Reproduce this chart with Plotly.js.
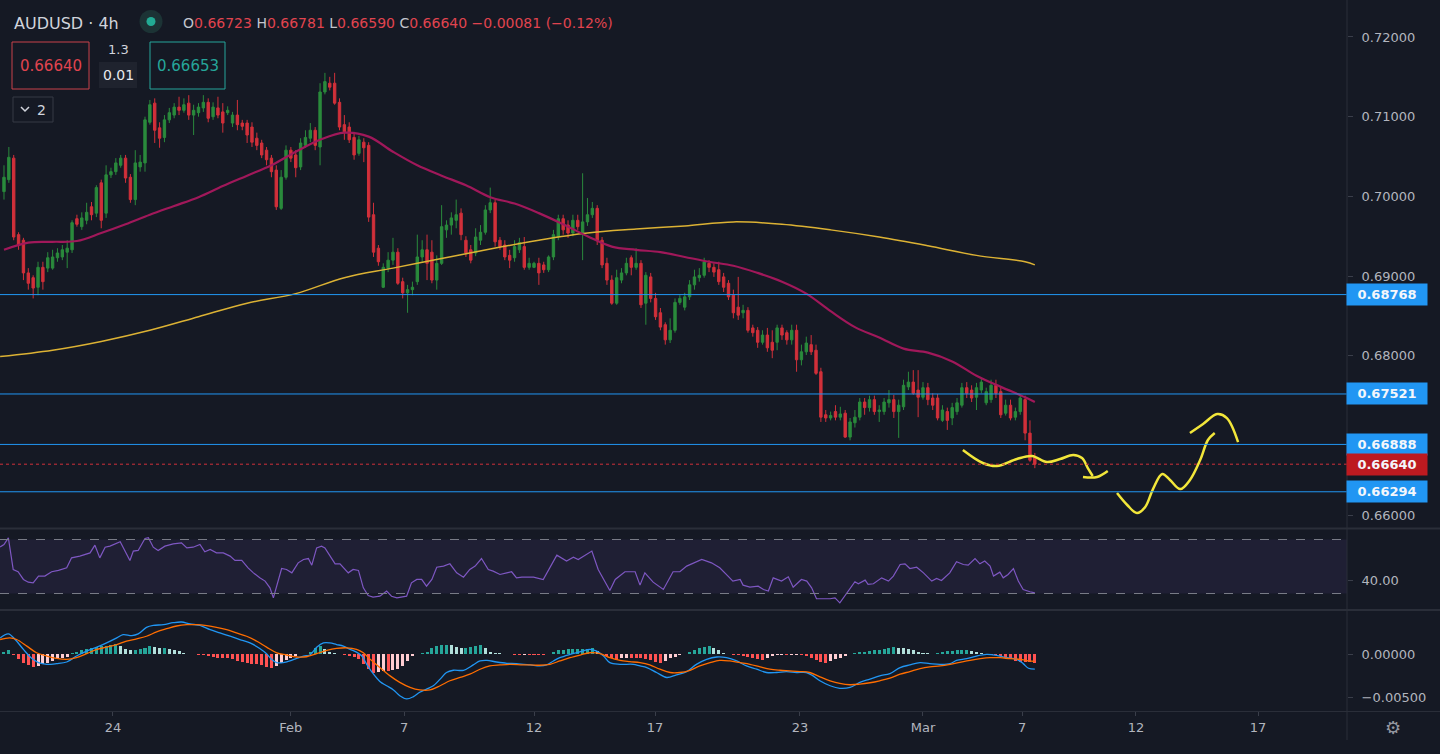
<!DOCTYPE html>
<html><head><meta charset="utf-8">
<script src="https://cdn.plot.ly/plotly-3.0.1.min.js"></script>
<style>html,body{margin:0;padding:0;background:#151924;overflow:hidden}#chart{width:1440px;height:754px}</style>
</head><body><div id="chart"></div>
<script>
// ---------- DATA ----------
const openP=[0.7006,0.7021,0.7048,0.6952,0.6945,0.6904,0.6898,0.6886,0.6911,0.6910,0.6910,0.6923,0.6924,0.6930,0.6933,0.6972,0.6962,0.6970,0.6987,0.6979,0.7017,0.6979,0.7027,0.7031,0.7039,0.7048,0.7024,0.6996,0.7037,0.7042,0.7093,0.7117,0.7086,0.7074,0.7096,0.7102,0.7112,0.7108,0.7117,0.7102,0.7105,0.7111,0.7118,0.7100,0.7111,0.7106,0.7105,0.7092,0.7102,0.7092,0.7092,0.7087,0.7073,0.7067,0.7058,0.7048,0.7033,0.6985,0.7024,0.7058,0.7052,0.7037,0.7064,0.7073,0.7083,0.7062,0.7131,0.7142,0.7142,0.7118,0.7090,0.7087,0.7074,0.7054,0.7068,0.7064,0.6977,0.6935,0.6886,0.6910,0.6920,0.6930,0.6893,0.6879,0.6883,0.6893,0.6924,0.6933,0.6930,0.6895,0.6916,0.6958,0.6964,0.6970,0.6979,0.6945,0.6933,0.6929,0.6945,0.6955,0.6983,0.6992,0.6945,0.6939,0.6926,0.6923,0.6933,0.6937,0.6911,0.6911,0.6916,0.6914,0.6908,0.6924,0.6949,0.6972,0.6964,0.6954,0.6970,0.6954,0.6968,0.6977,0.6985,0.6945,0.6916,0.6895,0.6866,0.6895,0.6904,0.6923,0.6911,0.6916,0.6866,0.6899,0.6872,0.6854,0.6839,0.6820,0.6832,0.6867,0.6861,0.6874,0.6889,0.6898,0.6901,0.6916,0.6911,0.6908,0.6899,0.6891,0.6876,0.6861,0.6854,0.6857,0.6835,0.6832,0.6817,0.6826,0.6817,0.6817,0.6835,0.6829,0.6820,0.6832,0.6795,0.6805,0.6814,0.6807,0.6780,0.6726,0.6722,0.6730,0.6723,0.6728,0.6698,0.6716,0.6723,0.6742,0.6735,0.6745,0.6730,0.6730,0.6741,0.6745,0.6730,0.6736,0.6761,0.6767,0.6757,0.6748,0.6760,0.6747,0.6747,0.6719,0.6730,0.6722,0.6730,0.6738,0.6760,0.6757,0.6748,0.6757,0.6741,0.6745,0.6763,0.6755,0.6728,0.6738,0.6723,0.6730,0.6745,0.6703,0.66723];
const highP=[0.7039,0.7062,0.7052,0.6955,0.6948,0.6910,0.6901,0.6918,0.6918,0.6930,0.6933,0.6935,0.6939,0.6945,0.6970,0.6977,0.6980,0.6992,0.6993,0.7014,0.7021,0.7039,0.7036,0.7048,0.7052,0.7052,0.7028,0.7058,0.7052,0.7100,0.7121,0.7123,0.7093,0.7102,0.7111,0.7117,0.7125,0.7123,0.7127,0.7115,0.7117,0.7127,0.7123,0.7118,0.7125,0.7117,0.7113,0.7106,0.7121,0.7096,0.7096,0.7093,0.7080,0.7071,0.7062,0.7052,0.7039,0.7033,0.7064,0.7062,0.7058,0.7073,0.7083,0.7092,0.7087,0.7142,0.7155,0.7150,0.7155,0.7123,0.7102,0.7093,0.7081,0.7076,0.7073,0.7068,0.6992,0.6939,0.6916,0.6930,0.6948,0.6935,0.6898,0.6889,0.6893,0.6952,0.6945,0.6952,0.6945,0.6926,0.6989,0.6970,0.6980,0.6996,0.6985,0.6950,0.6939,0.6960,0.6964,0.6989,0.7011,0.6996,0.6949,0.6945,0.6933,0.6945,0.6948,0.6949,0.6923,0.6918,0.6923,0.6918,0.6926,0.6958,0.6977,0.6977,0.6970,0.6977,0.6977,0.7029,0.6998,0.6993,0.6989,0.6949,0.6923,0.6901,0.6908,0.6910,0.6923,0.6926,0.6935,0.6920,0.6905,0.6904,0.6879,0.6860,0.6842,0.6847,0.6872,0.6876,0.6879,0.6895,0.6908,0.6910,0.6923,0.6920,0.6916,0.6918,0.6904,0.6895,0.6883,0.6899,0.6864,0.6861,0.6839,0.6836,0.6832,0.6835,0.6832,0.6839,0.6839,0.6832,0.6839,0.6839,0.6814,0.6824,0.6826,0.6814,0.6785,0.6732,0.6730,0.6738,0.6736,0.6732,0.6722,0.6732,0.6747,0.6747,0.6750,0.6750,0.6738,0.6747,0.6757,0.6751,0.6745,0.6770,0.6780,0.6782,0.6782,0.6767,0.6766,0.6753,0.6752,0.6738,0.6735,0.6741,0.6747,0.6766,0.6767,0.6763,0.6766,0.6773,0.6760,0.6770,0.6770,0.6760,0.6745,0.6745,0.6735,0.6751,0.6750,0.6719,0.66781];
const lowP=[0.6996,0.7017,0.6945,0.6933,0.6895,0.6883,0.6872,0.6876,0.6883,0.6905,0.6908,0.6918,0.6920,0.6910,0.6929,0.6962,0.6958,0.6965,0.6970,0.6974,0.6960,0.6973,0.7023,0.7027,0.7036,0.7017,0.6992,0.6989,0.7031,0.7031,0.7090,0.7067,0.7061,0.7068,0.7092,0.7098,0.7102,0.7105,0.7096,0.7077,0.7100,0.7106,0.7093,0.7096,0.7098,0.7080,0.7102,0.7087,0.7083,0.7083,0.7067,0.7062,0.7058,0.7048,0.7039,0.7024,0.6983,0.6983,0.7021,0.7043,0.7024,0.7033,0.7061,0.7068,0.7058,0.7039,0.7128,0.7133,0.7115,0.7083,0.7071,0.7067,0.7046,0.7051,0.7043,0.6968,0.6924,0.6913,0.6885,0.6905,0.6914,0.6889,0.6872,0.6854,0.6876,0.6889,0.6918,0.6895,0.6891,0.6883,0.6914,0.6948,0.6952,0.6960,0.6945,0.6924,0.6916,0.6925,0.6939,0.6952,0.6979,0.6937,0.6933,0.6920,0.6910,0.6918,0.6929,0.6908,0.6908,0.6910,0.6889,0.6904,0.6905,0.6920,0.6945,0.6952,0.6948,0.6950,0.6958,0.6920,0.6963,0.6973,0.6939,0.6910,0.6889,0.6864,0.6864,0.6891,0.6901,0.6901,0.6908,0.6860,0.6839,0.6867,0.6845,0.6832,0.6814,0.6816,0.6829,0.6864,0.6857,0.6870,0.6883,0.6893,0.6898,0.6905,0.6899,0.6889,0.6880,0.6870,0.6847,0.6845,0.6847,0.6829,0.6824,0.6810,0.6814,0.6805,0.6797,0.6807,0.6820,0.6814,0.6814,0.6780,0.6788,0.6801,0.6801,0.6776,0.6717,0.6717,0.6719,0.6719,0.6719,0.6697,0.6694,0.6710,0.6719,0.6726,0.6730,0.6726,0.6717,0.6726,0.6735,0.6722,0.6697,0.6732,0.6757,0.6751,0.6723,0.6745,0.6738,0.6732,0.6719,0.6717,0.6707,0.6713,0.6726,0.6735,0.6747,0.6742,0.6732,0.6753,0.6738,0.6741,0.6747,0.6722,0.6725,0.6719,0.6719,0.6726,0.6694,0.6667,0.66590];
const closeP=[0.7024,0.7049,0.6949,0.6939,0.6904,0.6891,0.6885,0.6911,0.6893,0.6923,0.6924,0.6929,0.6933,0.6935,0.6967,0.6965,0.6973,0.6980,0.6977,0.7011,0.6970,0.7027,0.7031,0.7042,0.7048,0.7023,0.6996,0.7042,0.7043,0.7096,0.7115,0.7083,0.7073,0.7096,0.7105,0.7112,0.7108,0.7115,0.7102,0.7108,0.7112,0.7118,0.7098,0.7112,0.7102,0.7092,0.7108,0.7102,0.7090,0.7088,0.7077,0.7068,0.7064,0.7052,0.7046,0.7031,0.6987,0.7024,0.7058,0.7048,0.7036,0.7067,0.7074,0.7083,0.7064,0.7131,0.7144,0.7137,0.7117,0.7087,0.7081,0.7071,0.7052,0.7071,0.7061,0.6974,0.6930,0.6918,0.6911,0.6920,0.6930,0.6891,0.6879,0.6883,0.6886,0.6924,0.6933,0.6916,0.6895,0.6916,0.6962,0.6964,0.6973,0.6977,0.6952,0.6929,0.6920,0.6949,0.6955,0.6983,0.6992,0.6943,0.6937,0.6924,0.6920,0.6937,0.6942,0.6911,0.6916,0.6916,0.6904,0.6908,0.6924,0.6952,0.6972,0.6958,0.6954,0.6970,0.6962,0.6968,0.6977,0.6985,0.6945,0.6914,0.6895,0.6866,0.6898,0.6904,0.6916,0.6911,0.6916,0.6864,0.6901,0.6872,0.6849,0.6836,0.6820,0.6832,0.6867,0.6872,0.6874,0.6889,0.6899,0.6901,0.6918,0.6911,0.6905,0.6893,0.6886,0.6874,0.6854,0.6851,0.6857,0.6832,0.6829,0.6817,0.6826,0.6810,0.6807,0.6835,0.6826,0.6820,0.6832,0.6795,0.6805,0.6816,0.6805,0.6778,0.6723,0.6722,0.6725,0.6723,0.6727,0.6698,0.6717,0.6723,0.6742,0.6735,0.6745,0.6730,0.6732,0.6742,0.6745,0.6730,0.6738,0.6763,0.6767,0.6753,0.6748,0.6760,0.6745,0.6738,0.6722,0.6732,0.6719,0.6735,0.6741,0.6760,0.6753,0.6747,0.6760,0.6767,0.6755,0.6763,0.6753,0.6726,0.6738,0.6722,0.6730,0.6747,0.6703,0.6669,0.66640];

// moving averages [bar, price]
const ma50Pts=[[0,0.6933],[5,0.6942],[10,0.6943],[15,0.6944],[20,0.6954],[25,0.6965],[30,0.6977],[35,0.6988],[40,0.6999],[45,0.7013],[50,0.7026],[55,0.7039],[60,0.7056],[65,0.7071],[70,0.7080],[75,0.7075],[80,0.7056],[85,0.7039],[90,0.7026],[95,0.7014],[100,0.6999],[105,0.6991],[110,0.6979],[115,0.6965],[120,0.6950],[125,0.6937],[130,0.6933],[135,0.6930],[140,0.6924],[145,0.6918],[150,0.6913],[155,0.6904],[160,0.6893],[165,0.6878],[170,0.6856],[175,0.6836],[180,0.6823],[185,0.6809],[190,0.6804],[195,0.6793],[200,0.6775],[205,0.6761],[210,0.6748],[212,0.6742]];
const ma200Pts=[[-0.8,0.6799],[10,0.6807],[20,0.6818],[30,0.6832],[40,0.6849],[50,0.6866],[60,0.6878],[70,0.6898],[80,0.6910],[90,0.6922],[100,0.6934],[110,0.6945],[120,0.6954],[130,0.6959],[140,0.6963],[150,0.6968],[160,0.6965],[170,0.6958],[180,0.6949],[190,0.6938],[200,0.6926],[210,0.6918],[212,0.6914]];

// RSI [bar, value]
const rsiPts=[[-0.8,64.5],[0,66.3],[0.9,71.2],[1.9,47.8],[2.9,46.1],[4.0,40.4],[5.0,38.4],[6.0,37.9],[7.1,42.9],[8.4,42.9],[9.8,46.1],[11.2,47.1],[12.9,49.0],[13.9,56.4],[15.6,57.7],[16.7,58.9],[17.7,60.1],[18.7,65.8],[19.7,56.4],[20.8,64.3],[21.8,65.1],[23.9,68.3],[24.9,61.9],[25.9,54.5],[26.6,61.4],[27.6,61.9],[29.0,70.8],[29.7,71.3],[30.7,64.3],[31.7,61.9],[33.1,65.1],[34.8,66.8],[36.5,67.5],[37.6,63.8],[38.9,64.3],[40.3,66.3],[41.3,60.9],[42.4,62.6],[43.7,60.1],[45.1,60.1],[46.5,57.7],[47.5,54.5],[48.9,54.5],[50.2,49.0],[51.3,45.3],[52.6,41.6],[53.7,39.2],[54.7,34.2],[55.4,26.8],[56.4,39.2],[57.1,48.5],[58.1,47.8],[59.2,45.3],[60.5,52.7],[61.6,55.2],[62.6,55.9],[63.3,51.0],[64.3,63.8],[65.3,65.1],[66.0,63.8],[67.0,57.7],[68.1,52.0],[69.1,52.0],[69.8,49.0],[70.8,45.3],[71.8,47.8],[72.9,47.1],[73.9,34.2],[74.9,28.5],[75.9,27.3],[77.3,28.0],[78.7,31.8],[79.7,28.0],[80.8,26.8],[81.8,27.5],[82.8,28.0],[83.8,37.9],[84.9,40.4],[85.9,40.4],[86.9,35.4],[88.0,40.4],[89.0,49.5],[90.4,50.3],[91.7,52.0],[93.1,45.3],[94.5,42.1],[95.8,47.8],[96.9,50.3],[98.2,55.9],[99.6,47.8],[100.6,46.6],[102.0,44.1],[103.4,45.3],[104.4,46.1],[105.4,41.6],[106.5,42.1],[108.9,42.1],[110.9,40.4],[113.7,58.4],[115.7,54.0],[117.1,56.9],[118.1,55.2],[120.9,61.4],[122.2,47.8],[124.6,32.2],[125.7,40.4],[127.7,46.1],[129.8,46.1],[130.8,36.2],[131.8,45.3],[133.5,38.4],[135.6,33.0],[137.6,46.1],[139.0,46.1],[140.4,50.3],[143.5,55.2],[145.5,52.7],[147.2,49.0],[148.9,42.9],[149.9,39.2],[151.4,40.4],[152.0,36.2],[153.4,34.7],[155.1,35.4],[156.2,33.0],[157.2,31.8],[158.2,41.6],[159.9,39.2],[161.3,42.4],[162.3,34.7],[164.0,40.4],[165.1,39.2],[166.1,34.2],[167.1,26.1],[169.9,26.1],[170.9,26.8],[171.9,23.1],[173.3,30.5],[175.0,38.7],[175.7,37.2],[177.1,39.9],[177.7,36.7],[178.8,37.2],[180.5,41.6],[181.9,39.2],[182.9,42.9],[184.3,51.5],[185.3,52.0],[186.3,48.5],[187.7,49.5],[189.1,45.3],[190.8,39.2],[191.8,41.1],[192.8,39.6],[194.5,45.3],[195.9,53.5],[197.3,51.5],[198.3,51.0],[199.7,55.9],[200.7,52.0],[201.7,54.0],[202.8,50.3],[203.5,42.9],[204.8,45.8],[205.5,41.6],[206.5,44.1],[207.6,48.5],[208.6,39.2],[209.6,33.0],[211.0,31.3],[212,30.5]];
const rsiLevels=[70,30];

// MACD [bar, value] and histogram per bar
const macdPts=[[-0.8,1.88e-3],[0.9,2.34e-3],[2.3,1.69e-3],[4.0,0.54e-3],[5.7,-0.50e-3],[7.1,-1.00e-3],[8.8,-1.19e-3],[10.8,-1.11e-3],[12.9,-0.92e-3],[14.9,-0.23e-3],[17.0,0.34e-3],[19.1,0.80e-3],[21.1,1.30e-3],[23.2,1.88e-3],[24.5,2.26e-3],[26.3,2.14e-3],[27.6,2.34e-3],[29.3,3.10e-3],[30.7,3.33e-3],[32.8,3.41e-3],[34.8,3.64e-3],[36.5,3.72e-3],[38.3,3.49e-3],[40.3,3.33e-3],[42.4,2.83e-3],[44.4,2.45e-3],[46.5,2.07e-3],[48.5,1.69e-3],[50.6,1.30e-3],[52.6,0.65e-3],[54.0,0.04e-3],[55.0,-0.61e-3],[56.1,-1.00e-3],[57.4,-1.00e-3],[58.8,-0.80e-3],[60.2,-0.50e-3],[61.6,-0.23e-3],[62.9,-0.11e-3],[64.3,0.80e-3],[65.7,1.30e-3],[67.0,1.30e-3],[68.4,1.11e-3],[69.8,0.92e-3],[71.2,0.54e-3],[72.5,0.23e-3],[73.6,-0.23e-3],[74.6,-1.19e-3],[76.0,-2.34e-3],[77.3,-3.18e-3],[78.7,-3.68e-3],[80.1,-4.17e-3],[81.4,-4.83e-3],[82.8,-5.21e-3],[84.2,-4.94e-3],[85.5,-4.44e-3],[86.9,-4.06e-3],[88.3,-3.68e-3],[89.7,-2.91e-3],[91.0,-2.14e-3],[92.4,-1.88e-3],[94.5,-1.88e-3],[96.5,-1.26e-3],[97.9,-0.80e-3],[99.3,-0.73e-3],[101.3,-0.92e-3],[103.4,-1.07e-3],[105.4,-1.11e-3],[108.2,-1.26e-3],[110.2,-1.38e-3],[111.6,-1.26e-3],[113.0,-0.80e-3],[114.3,-0.42e-3],[116.4,-0.04e-3],[118.5,0.27e-3],[120.5,0.54e-3],[121.9,0.34e-3],[123.3,-0.23e-3],[124.6,-1.00e-3],[126.7,-1.19e-3],[129.4,-1.19e-3],[130.8,-1.38e-3],[132.2,-1.57e-3],[134.2,-2.14e-3],[136.3,-2.72e-3],[138.3,-2.41e-3],[140.4,-2.03e-3],[142.4,-1.19e-3],[144.5,-0.61e-3],[146.6,-0.34e-3],[148.6,-0.42e-3],[150.7,-0.80e-3],[152.7,-1.38e-3],[154.8,-1.76e-3],[156.8,-2.14e-3],[158.9,-2.14e-3],[160.9,-2.03e-3],[163.0,-2.14e-3],[165.0,-2.14e-3],[166.4,-2.53e-3],[167.8,-3.10e-3],[169.9,-3.68e-3],[171.9,-3.98e-3],[174.0,-3.87e-3],[176.0,-3.29e-3],[178.1,-2.91e-3],[180.1,-2.53e-3],[182.2,-2.26e-3],[184.3,-1.57e-3],[186.3,-1.26e-3],[188.4,-1.00e-3],[190.4,-1.11e-3],[192.5,-1.19e-3],[194.6,-1.11e-3],[195.9,-0.73e-3],[198.0,-0.54e-3],[200.0,-0.23e-3],[202.1,-0.04e-3],[204.1,-0.15e-3],[206.2,-0.42e-3],[208.3,-0.61e-3],[209.6,-1.11e-3],[210.7,-1.65e-3],[212,-1.75e-3]];
const signalPts=[[-0.8,1.69e-3],[1.2,1.88e-3],[2.6,1.69e-3],[4.7,0.92e-3],[6.7,0.15e-3],[8.8,-0.23e-3],[10.8,-0.50e-3],[12.9,-0.61e-3],[14.9,-0.42e-3],[17.0,0.04e-3],[19.1,0.54e-3],[21.1,0.80e-3],[23.2,1.11e-3],[25.2,1.49e-3],[27.3,1.76e-3],[29.3,2.07e-3],[31.4,2.57e-3],[33.5,2.95e-3],[35.5,3.26e-3],[37.6,3.41e-3],[39.6,3.41e-3],[41.7,3.29e-3],[43.7,3.10e-3],[45.8,2.83e-3],[47.8,2.45e-3],[49.9,2.07e-3],[52.0,1.49e-3],[54.0,0.80e-3],[56.1,0.15e-3],[58.1,-0.11e-3],[60.2,-0.34e-3],[62.2,-0.31e-3],[64.3,0.04e-3],[66.4,0.42e-3],[68.4,0.65e-3],[70.5,0.73e-3],[72.5,0.54e-3],[73.9,0.15e-3],[75.3,-0.61e-3],[77.3,-1.57e-3],[79.4,-2.53e-3],[81.4,-3.29e-3],[83.5,-3.87e-3],[85.5,-4.17e-3],[87.6,-4.17e-3],[89.7,-3.68e-3],[91.7,-3.10e-3],[93.8,-2.72e-3],[95.8,-2.34e-3],[97.9,-1.76e-3],[99.9,-1.38e-3],[102.0,-1.26e-3],[104.1,-1.19e-3],[106.7,-1.26e-3],[108.2,-1.26e-3],[110.2,-1.30e-3],[112.3,-1.19e-3],[114.3,-0.80e-3],[116.4,-0.42e-3],[118.5,-0.11e-3],[120.5,0.15e-3],[122.6,0.04e-3],[124.6,-0.42e-3],[126.7,-0.73e-3],[128.7,-0.88e-3],[130.8,-1.00e-3],[132.8,-1.26e-3],[134.9,-1.76e-3],[137.0,-2.14e-3],[139.0,-2.14e-3],[141.1,-1.88e-3],[143.1,-1.38e-3],[145.2,-1.00e-3],[147.2,-0.73e-3],[149.3,-0.80e-3],[151.4,-1.00e-3],[153.4,-1.19e-3],[155.5,-1.49e-3],[157.5,-1.76e-3],[159.6,-1.88e-3],[161.6,-1.95e-3],[163.7,-2.03e-3],[165.7,-2.14e-3],[167.8,-2.64e-3],[169.9,-3.10e-3],[171.9,-3.41e-3],[174.0,-3.56e-3],[176.0,-3.49e-3],[178.1,-3.33e-3],[180.1,-3.10e-3],[182.2,-2.80e-3],[184.3,-2.34e-3],[186.3,-2.03e-3],[188.4,-1.69e-3],[190.4,-1.49e-3],[192.5,-1.38e-3],[194.6,-1.19e-3],[196.6,-0.96e-3],[198.7,-0.73e-3],[200.8,-0.54e-3],[202.8,-0.42e-3],[204.9,-0.42e-3],[206.9,-0.54e-3],[209.0,-0.61e-3],[210.7,-0.80e-3],[212,-0.85e-3]];
const histVals=[0.27e-3,0.42e-3,-0.08e-3,-0.61e-3,-1.00e-3,-1.26e-3,-1.49e-3,-1.38e-3,-1.19e-3,-1.00e-3,-0.80e-3,-0.61e-3,-0.50e-3,-0.34e-3,0.15e-3,0.27e-3,0.42e-3,0.54e-3,0.65e-3,0.80e-3,0.88e-3,0.92e-3,1.11e-3,1.19e-3,0.92e-3,0.54e-3,0.42e-3,0.42e-3,0.54e-3,0.73e-3,0.92e-3,0.80e-3,0.65e-3,0.65e-3,0.54e-3,0.46e-3,0.34e-3,0.15e-3,0.04e-3,-0.04e-3,-0.08e-3,-0.15e-3,-0.23e-3,-0.31e-3,-0.42e-3,-0.42e-3,-0.50e-3,-0.61e-3,-0.80e-3,-0.88e-3,-1.00e-3,-1.11e-3,-1.19e-3,-1.30e-3,-1.49e-3,-1.57e-3,-1.38e-3,-1.00e-3,-0.73e-3,-0.50e-3,-0.23e-3,-0.04e-3,0.04e-3,0.27e-3,0.73e-3,0.92e-3,0.54e-3,0.27e-3,0.15e-3,0.04e-3,-0.15e-3,-0.23e-3,-0.34e-3,-0.61e-3,-1.19e-3,-1.76e-3,-2.14e-3,-2.03e-3,-1.95e-3,-1.95e-3,-1.88e-3,-1.76e-3,-1.38e-3,-0.80e-3,-0.23e-3,-0.04e-3,0.15e-3,0.27e-3,0.65e-3,0.92e-3,1.11e-3,1.11e-3,1.03e-3,0.80e-3,0.65e-3,0.65e-3,0.80e-3,0.92e-3,1.11e-3,0.65e-3,0.27e-3,0.15e-3,0.08e-3,0.04e-3,-0.04e-3,-0.11e-3,-0.11e-3,-0.08e-3,-0.08e-3,-0.11e-3,-0.11e-3,-0.15e-3,-0.04e-3,0.19e-3,0.42e-3,0.50e-3,0.54e-3,0.54e-3,0.54e-3,0.54e-3,0.61e-3,0.65e-3,0.34e-3,0.04e-3,-0.23e-3,-0.42e-3,-0.73e-3,-0.50e-3,-0.42e-3,-0.42e-3,-0.50e-3,-0.50e-3,-0.61e-3,-0.73e-3,-0.88e-3,-1.00e-3,-0.80e-3,-0.50e-3,-0.34e-3,-0.11e-3,0.04e-3,0.27e-3,0.42e-3,0.65e-3,0.80e-3,0.92e-3,0.73e-3,0.42e-3,0.15e-3,-0.04e-3,-0.11e-3,-0.15e-3,-0.23e-3,-0.34e-3,-0.50e-3,-0.61e-3,-0.73e-3,-0.42e-3,-0.23e-3,-0.11e-3,-0.08e-3,-0.15e-3,-0.11e-3,-0.08e-3,-0.15e-3,-0.23e-3,-0.50e-3,-0.73e-3,-0.88e-3,-1.00e-3,-0.80e-3,-0.61e-3,-0.42e-3,-0.23e-3,0.04e-3,0.15e-3,0.19e-3,0.27e-3,0.34e-3,0.42e-3,0.42e-3,0.54e-3,0.73e-3,0.80e-3,0.73e-3,0.65e-3,0.54e-3,0.42e-3,0.27e-3,0.15e-3,0.08e-3,0.04e-3,0.15e-3,0.27e-3,0.34e-3,0.34e-3,0.42e-3,0.42e-3,0.42e-3,0.34e-3,0.27e-3,0.11e-3,0.04e-3,-0.11e-3,-0.15e-3,-0.23e-3,-0.42e-3,-0.61e-3,-0.80e-3,-0.88e-3,-0.92e-3,-0.96e-3,-1.00e-3];

// horizontal price levels and the last price
const levels=[0.68768,0.67521,0.66888,0.66294];
const lastPrice=0.66640;

// freehand projection drawing [bar, price]
const draw1=[[197.2,0.66818],[201.3,0.66655],[204.2,0.66617],[208.3,0.66705],[211.4,0.66743],[214.5,0.66667],[217.2,0.66705],[219.9,0.66755],[221.7,0.66717],[222.9,0.66592],[223.9,0.66492]];
const draw2=[[221.9,0.66479],[224.8,0.66479],[227.0,0.66554]];
const draw3=[[228.9,0.66278],[231.0,0.66128],[233.0,0.66027],[234.7,0.66103],[236.3,0.66328],[238.2,0.66517],[239.8,0.66442],[241.9,0.66328],[243.9,0.66442],[246.0,0.66692],[247.6,0.66943],[249.0,0.67031]];
const draw4=[[243.9,0.67031],[246.6,0.67144],[249.5,0.67269],[251.5,0.67219],[253.8,0.66918]];

// axis ticks
const timeTickPos=[22.4,59.0,82.3,109.0,133.9,163.7,189.0,209.4,232.8,257.9];
const timeTickText=['24','Feb','7','12','17','23','Mar','7','12','17'];
const priceTicks=[0.72,0.71,0.70,0.69,0.68,0.66];
const rsiTicks=[40];
const macdTicks=[0,-0.005];
const macdTickText=['0.00000','\u22120.00500'];

// legend header values
const symbol='AUDUSD', tf='4h';
const ohlcText={O:'0.66723',H:'0.66781',L:'0.66590',C:'0.66640',chg:'\u22120.00081 (\u22120.12%)'};
const sellPrice='0.66640', buyPrice='0.66653', spreadTxt='1.3', lotTxt='0.01';

// ---------- DRAW ----------
const W=1440,H=754;
const PX=x=>x/W, PY=y=>1-y/H;
const BG='#151924', TXT='#b2b5be', FONT='DejaVu Sans, Liberation Sans, sans-serif';
const XEND=PX(1347);
const bars=openP.map((_,i)=>i);
const col=(a,i)=>a.map(p=>p[i]);

const histColors=histVals.map((v,i)=>{const p=i>0?histVals[i-1]:v;
  if(v>=0) return v>=p?'#26a69a':'#b2dfdb'; return v<=p?'#ff5252':'#ffcdd2';});

const traces=[
 {type:'candlestick',x:bars,open:openP,high:highP,low:lowP,close:closeP,xaxis:'x',yaxis:'y',
  increasing:{line:{color:'#2a8a3c',width:1},fillcolor:'#2a8a3c'},
  decreasing:{line:{color:'#d1303a',width:1},fillcolor:'#d1303a'},hoverinfo:'skip'},
 {type:'scatter',mode:'lines',x:col(ma200Pts,0),y:col(ma200Pts,1),yaxis:'y',line:{color:'#dcb234',width:1.5,shape:'spline'},hoverinfo:'skip'},
 {type:'scatter',mode:'lines',x:col(ma50Pts,0),y:col(ma50Pts,1),yaxis:'y',line:{color:'#a0185a',width:2.2,shape:'spline'},hoverinfo:'skip'},
 ...[draw1,draw2,draw3,draw4].map(d=>({type:'scatter',mode:'lines',x:col(d,0),y:col(d,1),yaxis:'y',line:{color:'#f2e63a',width:2.5,shape:'spline',smoothing:1},hoverinfo:'skip'})),
 {type:'scatter',mode:'lines',x:col(rsiPts,0),y:col(rsiPts,1),yaxis:'y2',line:{color:'#7e57c2',width:1.2},hoverinfo:'skip'},
 {type:'bar',x:bars,y:histVals,yaxis:'y3',marker:{color:histColors,line:{width:0}},width:0.62,hoverinfo:'skip'},
 {type:'scatter',mode:'lines',x:col(macdPts,0),y:col(macdPts,1),yaxis:'y3',line:{color:'#2196f3',width:1.3,shape:'spline'},hoverinfo:'skip'},
 {type:'scatter',mode:'lines',x:col(signalPts,0),y:col(signalPts,1),yaxis:'y3',line:{color:'#ff6d00',width:1.3,shape:'spline'},hoverinfo:'skip'}
];

const shapes=[];
const ann=[];
// RSI band and dashed levels
shapes.push({type:'rect',xref:'paper',yref:'y2',x0:0,x1:XEND,y0:rsiLevels[1],y1:rsiLevels[0],fillcolor:'rgba(126,87,194,0.10)',line:{width:0},layer:'below'});
rsiLevels.forEach(l=>shapes.push({type:'line',xref:'paper',yref:'y2',x0:0,x1:XEND,y0:l,y1:l,line:{color:'#787b86',width:1,dash:'dash'}}));
// price levels
levels.forEach(l=>{
  shapes.push({type:'line',xref:'paper',yref:'y',x0:0,x1:XEND,y0:l,y1:l,line:{color:'#2196f3',width:1}});
  ann.push({xref:'paper',yref:'y',x:PX(1387),y:l,text:'<b>'+l.toFixed(5)+'</b>',showarrow:false,bgcolor:'#2196f3',width:78,height:19,borderpad:1,
    font:{family:FONT,size:13,color:'#f4f6fb'},xanchor:'center',yanchor:'middle'});
});
shapes.push({type:'line',xref:'paper',yref:'y',x0:0,x1:XEND,y0:lastPrice,y1:lastPrice,line:{color:'#d1303a',width:1,dash:'dot'}});
ann.push({xref:'paper',yref:'y',x:PX(1387),y:lastPrice,text:'<b>'+lastPrice.toFixed(5)+'</b>',showarrow:false,bgcolor:'#bd1a20',width:78,height:19,borderpad:1,
  font:{family:FONT,size:13,color:'#f4f6fb'},xanchor:'center',yanchor:'middle'});
// pane separators & axis lines
[528.5,610].forEach(y=>shapes.push({type:'line',xref:'paper',yref:'paper',x0:0,x1:1,y0:PY(y),y1:PY(y),line:{color:'#2a2e39',width:2}}));
shapes.push({type:'line',xref:'paper',yref:'paper',x0:0,x1:1,y0:PY(711.5),y1:PY(711.5),line:{color:'#2a2e39',width:1}});
shapes.push({type:'line',xref:'paper',yref:'paper',x0:XEND,x1:XEND,y0:PY(740),y1:1,line:{color:'#2a2e39',width:1}});
// legend widgets
shapes.push({type:'circle',xref:'paper',yref:'paper',x0:PX(139.5),x1:PX(162.5),y0:PY(33),y1:PY(10),fillcolor:'#1c3335',line:{width:0}});
shapes.push({type:'circle',xref:'paper',yref:'paper',x0:PX(146.5),x1:PX(155.5),y0:PY(26),y1:PY(17),fillcolor:'#22ab94',line:{width:0}});
shapes.push({type:'rect',xref:'paper',yref:'paper',x0:PX(12),x1:PX(89),y0:PY(89),y1:PY(42),line:{color:'#c9424b',width:1},fillcolor:BG});
shapes.push({type:'rect',xref:'paper',yref:'paper',x0:PX(99),x1:PX(137),y0:PY(88),y1:PY(62),line:{width:0},fillcolor:'#1f232e'});
shapes.push({type:'rect',xref:'paper',yref:'paper',x0:PX(150),x1:PX(225),y0:PY(89),y1:PY(42),line:{color:'#26a69a',width:1},fillcolor:BG});
shapes.push({type:'rect',xref:'paper',yref:'paper',x0:PX(13),x1:PX(53),y0:PY(122),y1:PY(97),line:{color:'#363a45',width:1},fillcolor:BG});
shapes.push({type:'path',xref:'paper',yref:'paper',path:`M ${PX(21)} ${PY(107)} L ${PX(25)} ${PY(111)} L ${PX(29)} ${PY(107)}`,line:{color:'#d1d4dc',width:1.5}});

const red='#e0444f', lt='#d1d4dc';
ann.push({xref:'paper',yref:'paper',x:PX(12),y:PY(23),xanchor:'left',yanchor:'middle',showarrow:false,
  text:`${symbol} · ${tf}`,font:{family:FONT,size:16,color:lt}});
ann.push({xref:'paper',yref:'paper',x:PX(181),y:PY(23),xanchor:'left',yanchor:'middle',showarrow:false,
  text:`O<span style="color:${red}">${ohlcText.O}</span> H<span style="color:${red}">${ohlcText.H}</span> L<span style="color:${red}">${ohlcText.L}</span> C<span style="color:${red}">${ohlcText.C} ${ohlcText.chg}</span>`,
  font:{family:FONT,size:14,color:'#c3c6ce'}});
ann.push({xref:'paper',yref:'paper',x:PX(50.5),y:PY(66),showarrow:false,text:sellPrice,font:{family:FONT,size:15,color:red},xanchor:'center',yanchor:'middle'});
ann.push({xref:'paper',yref:'paper',x:PX(118),y:PY(50),showarrow:false,text:spreadTxt,font:{family:FONT,size:13,color:lt},xanchor:'center',yanchor:'middle'});
ann.push({xref:'paper',yref:'paper',x:PX(118),y:PY(75),showarrow:false,text:lotTxt,font:{family:FONT,size:14,color:'#e8e9ed'},xanchor:'center',yanchor:'middle'});
ann.push({xref:'paper',yref:'paper',x:PX(187.5),y:PY(66),showarrow:false,text:buyPrice,font:{family:FONT,size:15,color:'#26a69a'},xanchor:'center',yanchor:'middle'});
ann.push({xref:'paper',yref:'paper',x:PX(41),y:PY(110),showarrow:false,text:'2',font:{family:FONT,size:14,color:lt},xanchor:'center',yanchor:'middle'});
ann.push({xref:'paper',yref:'paper',x:PX(1393),y:PY(727),showarrow:false,text:'\u2699',font:{family:FONT,size:18,color:'#9598a1'},xanchor:'center',yanchor:'middle'});

const yCommon={side:'right',anchor:'x',showgrid:false,zeroline:false,showline:false,ticks:'outside',ticklen:5,tickcolor:'#3a3e4a',
  tickfont:{family:FONT,size:13,color:TXT},ticklabelstandoff:6,fixedrange:true};
const layout={
  width:W,height:H,margin:{l:0,r:0,t:0,b:0},paper_bgcolor:BG,plot_bgcolor:BG,showlegend:false,hovermode:false,bargap:0,
  xaxis:{domain:[0,XEND],range:[-0.82,276.2],anchor:'y3',showgrid:false,zeroline:false,showline:false,
    tickmode:'array',tickvals:timeTickPos,ticktext:timeTickText,ticks:'outside',ticklen:4,tickcolor:'#3a3e4a',
    tickfont:{family:FONT,size:13,color:TXT},rangeslider:{visible:false},fixedrange:true},
  yaxis:Object.assign({},yCommon,{domain:[PY(527),1],range:[0.65852,0.72464],tickmode:'array',tickvals:priceTicks,ticktext:priceTicks.map(v=>v.toFixed(5))}),
  yaxis2:Object.assign({},yCommon,{domain:[PY(609),PY(530)],range:[18.52,77.04],tickmode:'array',tickvals:rsiTicks,ticktext:rsiTicks.map(v=>v.toFixed(2))}),
  yaxis3:Object.assign({},yCommon,{domain:[PY(711),PY(611)],range:[-0.00661,0.0050],tickmode:'array',tickvals:macdTicks,ticktext:macdTickText}),
  shapes:shapes,annotations:ann
};
Plotly.newPlot('chart',traces,layout,{staticPlot:true,displayModeBar:false});
</script></body></html>
